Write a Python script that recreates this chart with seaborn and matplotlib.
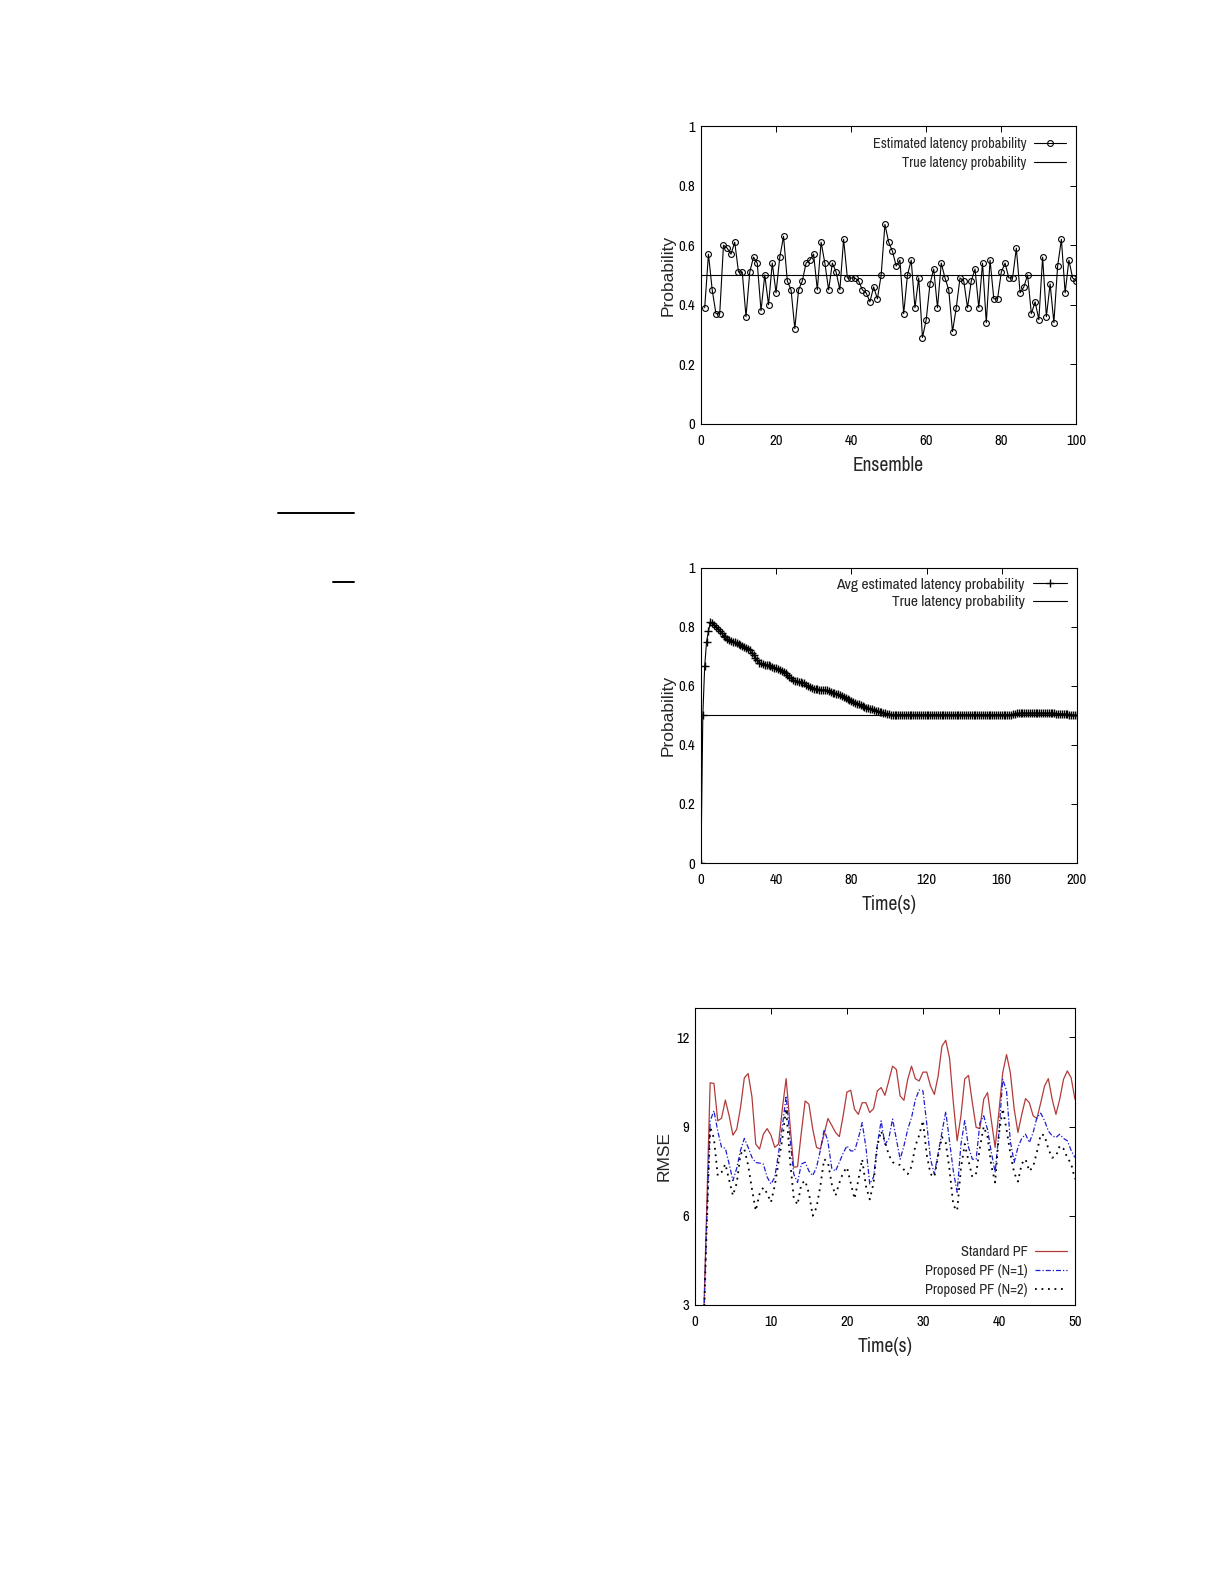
import numpy as np
import pandas as pd
import matplotlib
matplotlib.use("Agg")
import matplotlib.pyplot as plt
from matplotlib import font_manager
from matplotlib.lines import Line2D
import seaborn as sns

# ---- chart 1: estimated latency probability per ensemble ----
ensemble = list(range(1, 101))
est_prob = [
    0.39, 0.57, 0.45, 0.37, 0.37, 0.60, 0.59, 0.57, 0.61, 0.51,
    0.51, 0.36, 0.51, 0.56, 0.54, 0.38, 0.50, 0.40, 0.54, 0.44,
    0.56, 0.63, 0.48, 0.45, 0.32, 0.45, 0.48, 0.54, 0.55, 0.57,
    0.45, 0.61, 0.54, 0.45, 0.54, 0.51, 0.45, 0.62, 0.49, 0.49,
    0.49, 0.48, 0.45, 0.44, 0.41, 0.46, 0.42, 0.50, 0.67, 0.61,
    0.58, 0.53, 0.55, 0.37, 0.50, 0.55, 0.39, 0.49, 0.29, 0.35,
    0.47, 0.52, 0.39, 0.54, 0.49, 0.45, 0.31, 0.39, 0.49, 0.48,
    0.39, 0.48, 0.52, 0.39, 0.54, 0.34, 0.55, 0.42, 0.42, 0.51,
    0.54, 0.49, 0.49, 0.59, 0.44, 0.46, 0.50, 0.37, 0.41, 0.35,
    0.56, 0.36, 0.47, 0.34, 0.53, 0.62, 0.44, 0.55, 0.49, 0.48,
]
true_prob = 0.5

# ---- chart 2: average estimated latency probability over time ----
time2 = list(range(0, 201))
avg_prob = [
    0.000, 0.500, 0.667, 0.750, 0.785, 0.815, 0.812, 0.806, 0.800, 0.793,
    0.785, 0.778, 0.770, 0.765, 0.760, 0.756, 0.752, 0.750, 0.747, 0.744,
    0.741, 0.738, 0.735, 0.732, 0.729, 0.726, 0.720, 0.712, 0.703, 0.695,
    0.686, 0.679, 0.676, 0.674, 0.672, 0.671, 0.670, 0.667, 0.664, 0.661,
    0.659, 0.657, 0.654, 0.651, 0.647, 0.642, 0.637, 0.631, 0.625, 0.620,
    0.617, 0.615, 0.613, 0.612, 0.610, 0.608, 0.604, 0.599, 0.595, 0.592,
    0.590, 0.589, 0.588, 0.587, 0.587, 0.586, 0.586, 0.585, 0.582, 0.579,
    0.577, 0.575, 0.573, 0.571, 0.568, 0.565, 0.561, 0.558, 0.555, 0.552,
    0.549, 0.546, 0.543, 0.540, 0.537, 0.534, 0.531, 0.528, 0.526, 0.524,
    0.522, 0.520, 0.518, 0.516, 0.514, 0.512, 0.510, 0.508, 0.507, 0.505,
    0.504, 0.503, 0.503, 0.503, 0.502, 0.503, 0.503, 0.503, 0.502, 0.503,
    0.503, 0.503, 0.503, 0.502, 0.503, 0.503, 0.503, 0.503, 0.502, 0.503,
    0.503, 0.503, 0.502, 0.503, 0.503, 0.503, 0.503, 0.502, 0.503, 0.503,
    0.503, 0.503, 0.503, 0.502, 0.503, 0.503, 0.503, 0.502, 0.503, 0.503,
    0.503, 0.502, 0.503, 0.503, 0.503, 0.503, 0.502, 0.503, 0.503, 0.503,
    0.503, 0.503, 0.502, 0.503, 0.503, 0.503, 0.503, 0.502, 0.503, 0.503,
    0.503, 0.503, 0.503, 0.503, 0.503, 0.503, 0.504, 0.506, 0.507, 0.507,
    0.507, 0.507, 0.508, 0.507, 0.507, 0.508, 0.507, 0.507, 0.507, 0.508,
    0.507, 0.507, 0.508, 0.507, 0.507, 0.507, 0.507, 0.508, 0.507, 0.506,
    0.505, 0.505, 0.504, 0.504, 0.505, 0.504, 0.503, 0.502, 0.502, 0.501,
    0.500,
]

# ---- chart 3: RMSE of the particle filters ----
time3 = [1.0 + 0.5 * i for i in range(99)]
rmse_std = [
    1.2, 5.8, 10.47, 10.45, 9.19, 9.28, 9.89, 9.36, 8.71, 8.91,
    9.64, 10.64, 10.78, 10.0, 8.41, 8.24, 8.74, 8.93, 8.71, 8.30,
    8.41, 9.6, 10.61, 9.1, 7.63, 7.65, 8.8, 9.86, 9.75, 8.91,
    8.30, 8.24, 8.75, 9.27, 9.04, 8.8, 8.66, 9.36, 10.16, 10.22,
    9.58, 9.41, 9.8, 9.8, 9.47, 9.6, 10.2, 10.31, 10.05, 10.53,
    11.03, 10.92, 10.03, 9.88, 10.59, 11.03, 10.61, 10.53, 10.83, 10.83,
    10.36, 10.08, 10.7, 11.7, 11.9, 11.3, 9.8, 8.52, 9.36, 10.6,
    10.72, 9.8, 8.97, 8.93, 9.92, 10.14, 9.2, 8.30, 9.5, 10.81,
    11.42, 10.81, 9.6, 8.8, 9.4, 9.94, 9.80, 9.36, 9.27, 9.8,
    10.36, 10.61, 9.92, 9.41, 9.92, 10.59, 10.87, 10.64, 9.92,
]
rmse_n1 = [
    1.0, 5.4, 9.19, 9.53, 8.85, 8.3, 8.27, 7.74, 7.18, 7.6,
    8.2, 8.6, 8.3, 7.96, 7.79, 7.77, 7.74, 7.3, 7.07, 7.29,
    8.1, 9.0, 10.03, 8.63, 7.4, 7.12, 7.74, 7.8, 7.5, 7.35,
    7.63, 8.2, 8.9, 8.5, 7.6, 7.5, 7.8, 8.1, 8.35, 8.18,
    8.18, 8.6, 9.13, 8.3, 7.07, 7.3, 8.4, 9.19, 8.4, 8.58,
    9.25, 8.58, 7.9, 8.35, 8.91, 9.3, 9.9, 10.23, 10.2, 9.1,
    7.9, 7.4, 8.1, 8.8, 9.5, 8.5, 7.5, 6.79, 8.4, 9.2,
    8.3, 7.9, 7.9, 9.13, 9.36, 8.9, 8.13, 7.46, 8.8, 10.59,
    10.2, 8.5, 7.79, 8.3, 8.6, 8.74, 8.46, 8.8, 9.3, 9.45,
    9.2, 8.85, 8.69, 8.63, 8.74, 8.6, 8.52, 8.2, 7.96,
]
rmse_n2 = [
    1.0, 5.2, 9.0, 8.6, 7.35, 7.46, 7.74, 7.2, 6.68, 7.1,
    8.07, 8.24, 7.7, 6.9, 6.17, 6.73, 6.95, 6.75, 6.45, 7.01,
    7.8, 8.6, 9.6, 7.9, 6.6, 6.37, 7.07, 7.18, 6.75, 6.0,
    6.28, 7.0, 7.9, 7.8, 7.07, 6.68, 7.1, 7.45, 7.63, 7.1,
    6.57, 7.2, 7.9, 7.0, 6.55, 7.1, 8.35, 8.85, 8.5, 8.05,
    7.8, 7.75, 7.7, 7.55, 7.4, 7.65, 8.35, 8.7, 9.2, 8.05,
    7.4, 7.3, 8.0, 8.65, 8.45, 7.55, 6.35, 6.17, 7.6, 8.41,
    7.85, 7.3, 7.43, 8.3, 9.0, 8.65, 7.68, 7.12, 8.74, 9.6,
    8.9, 8.1, 7.45, 7.15, 7.75, 7.9, 7.5, 7.65, 8.15, 8.74,
    8.7, 8.25, 7.95, 8.0, 8.35, 8.25, 7.95, 7.75, 7.23,
]

sns.set_style("white")

# pick a narrow sans if one is installed, the reference text is condensed
narrow_name = None
for f in font_manager.fontManager.ttflist:
    nm = f.name.lower()
    if ("narrow" in nm or "condensed" in nm) and "mono" not in nm and "serif" not in nm:
        narrow_name = f.name
        break
if narrow_name is None:
    for f in font_manager.fontManager.ttflist:
        st = str(f.stretch).lower()
        if "condensed" in st and "mono" not in f.name.lower() and "serif" not in f.name.lower():
            narrow_name = f.name
            break
narrow = [narrow_name, "DejaVu Sans"] if narrow_name else ["Liberation Sans", "DejaVu Sans"]
plain = ["Liberation Sans", "DejaVu Sans"]

plt.rcParams["font.family"] = narrow
plt.rcParams["font.stretch"] = "condensed"
plt.rcParams["axes.linewidth"] = 0.8
plt.rcParams["xtick.direction"] = "in"
plt.rcParams["ytick.direction"] = "in"
plt.rcParams["xtick.top"] = True
plt.rcParams["ytick.right"] = True

fig = plt.figure(figsize=(12.25, 15.85), dpi=100)
ax1 = fig.add_axes([0.5722, 0.7325, 0.3065, 0.1880])
ax2 = fig.add_axes([0.5722, 0.4555, 0.3069, 0.1863])
ax3 = fig.add_axes([0.5673, 0.1767, 0.3102, 0.1876])


def style_axis(ax):
    for s in ax.spines.values():
        s.set_color("black")
        s.set_linewidth(0.8)
    ax.tick_params(which="both", length=4.5, width=0.7, colors="black",
                   labelsize=10.5, top=True, right=True)
    ax.tick_params(axis="x", pad=7)
    ax.tick_params(axis="y", pad=4)


leg_kw = dict(frameon=False, markerfirst=False, handlelength=2.2, handletextpad=0.5)

# chart 1
df1 = pd.DataFrame({"ensemble": ensemble, "prob": est_prob})
sns.lineplot(data=df1, x="ensemble", y="prob", ax=ax1, color="black",
             linewidth=0.8, marker="o", markersize=4.2, markerfacecolor="none",
             markeredgecolor="black", markeredgewidth=0.8)
ax1.axhline(true_prob, color="black", linewidth=0.8)
ax1.set_xlim(0, 100)
ax1.set_ylim(0, 1)
ax1.set_xticks([0, 20, 40, 60, 80, 100])
ax1.set_yticks([0, 0.2, 0.4, 0.6, 0.8, 1])
ax1.set_yticklabels(["0", "0.2", "0.4", "0.6", "0.8", "1"])
ax1.set_xlabel("Ensemble", fontsize=14, labelpad=6)
ax1.set_ylabel("Probability", fontsize=12.5, family=plain, stretch="normal", labelpad=2)
style_axis(ax1)
h1 = [Line2D([], [], color="black", lw=0.8, marker="o", ms=4.2, mfc="none", mew=0.8),
      Line2D([], [], color="black", lw=0.8)]
ax1.legend(h1, ["Estimated latency probability", "True latency probability"],
           loc="upper right", borderaxespad=0.35, fontsize=10.4, labelspacing=0.33,
           **leg_kw)

# chart 2
df2 = pd.DataFrame({"time": time2, "prob": avg_prob})
sns.lineplot(data=df2, x="time", y="prob", ax=ax2, color="black",
             linewidth=0.8, marker="+", markersize=5.5, markeredgecolor="black",
             markeredgewidth=1.0)
ax2.axhline(true_prob, color="black", linewidth=0.8)
ax2.set_xlim(0, 200)
ax2.set_ylim(0, 1)
ax2.set_xticks([0, 40, 80, 120, 160, 200])
ax2.set_yticks([0, 0.2, 0.4, 0.6, 0.8, 1])
ax2.set_yticklabels(["0", "0.2", "0.4", "0.6", "0.8", "1"])
ax2.set_xlabel("Time(s)", fontsize=14, labelpad=6)
ax2.set_ylabel("Probability", fontsize=12.5, family=plain, stretch="normal", labelpad=2)
style_axis(ax2)
h2 = [Line2D([], [], color="black", lw=0.8, marker="+", ms=5.5, mew=1.0),
      Line2D([], [], color="black", lw=0.8)]
ax2.legend(h2, ["Avg estimated latency probability", "True latency probability"],
           loc="upper right", borderaxespad=0.25, fontsize=11.2, labelspacing=0.2,
           **leg_kw)

# chart 3
df3 = pd.DataFrame({"time": time3, "Standard PF": rmse_std,
                    "Proposed PF (N=1)": rmse_n1, "Proposed PF (N=2)": rmse_n2})
sns.lineplot(data=df3, x="time", y="Standard PF", ax=ax3, color="#b23a3a",
             linewidth=0.9)
sns.lineplot(data=df3, x="time", y="Proposed PF (N=1)", ax=ax3, color="#1f1fd0",
             linewidth=0.9, linestyle=(0, (4, 1.6, 1, 1.6)))
sns.lineplot(data=df3, x="time", y="Proposed PF (N=2)", ax=ax3, color="black",
             linewidth=1.3, linestyle=(0, (1, 2.6)))
ax3.set_xlim(0, 50)
ax3.set_ylim(3, 13)
ax3.set_xticks([0, 10, 20, 30, 40, 50])
ax3.set_yticks([3, 6, 9, 12])
ax3.set_xlabel("Time(s)", fontsize=14, labelpad=6)
ax3.set_ylabel("RMSE", fontsize=12.5, family=plain, stretch="normal", labelpad=3)
style_axis(ax3)
h3 = [Line2D([], [], color="#b23a3a", lw=0.9),
      Line2D([], [], color="#1f1fd0", lw=0.9, ls=(0, (4, 1.6, 1, 1.6))),
      Line2D([], [], color="black", lw=1.3, ls=(0, (1, 2.6)))]
ax3.legend(h3, ["Standard PF", "Proposed PF (N=1)", "Proposed PF (N=2)"],
           loc="lower right", borderaxespad=0.15, fontsize=10.4, labelspacing=0.33,
           **leg_kw)

# stray rule marks on the left of the page
fig.add_artist(Line2D([278 / 1225, 354 / 1225], [1 - 513 / 1585, 1 - 513 / 1585],
                      color="black", lw=1.4))
fig.add_artist(Line2D([333 / 1225, 354 / 1225], [1 - 582 / 1585, 1 - 582 / 1585],
                      color="black", lw=1.4))

fig.savefig("out.png", dpi=100, facecolor="white")
